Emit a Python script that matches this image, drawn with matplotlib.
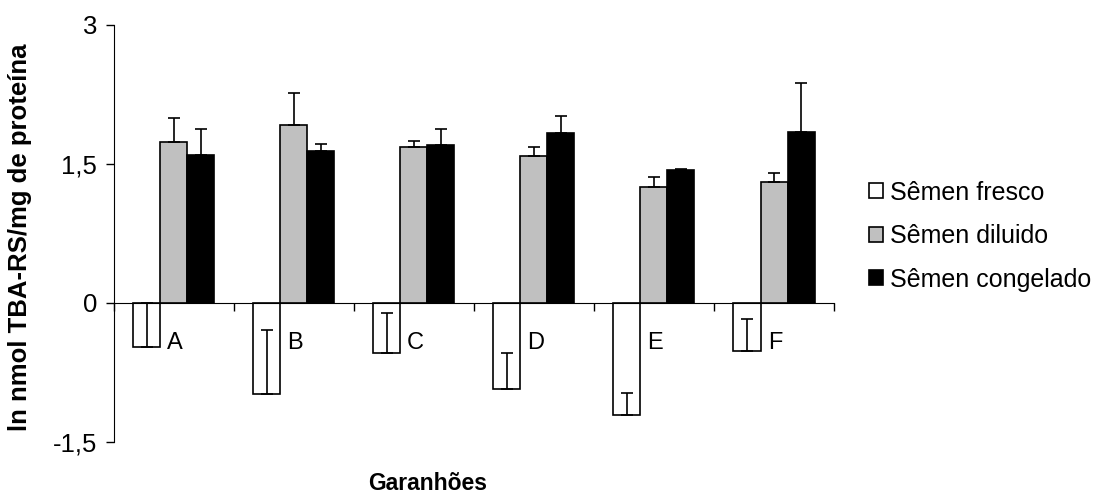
import matplotlib
matplotlib.use("Agg")
import matplotlib.pyplot as plt
import numpy as np
from matplotlib.patches import Patch

plt.rcParams["font.family"] = ["Liberation Sans", "DejaVu Sans"]

CATEGORIES = ["A", "B", "C", "D", "E", "F"]
SERIES = ["Sêmen fresco", "Sêmen diluido", "Sêmen congelado"]
FRESCO = [-0.48, -0.98, -0.54, -0.93, -1.21, -0.52]
FRESCO_ERR = [0.48, 0.69, 0.43, 0.39, 0.24, 0.35]
DILUIDO = [1.74, 1.92, 1.68, 1.59, 1.25, 1.31]
DILUIDO_ERR = [0.26, 0.35, 0.07, 0.09, 0.11, 0.09]
CONGELADO = [1.60, 1.64, 1.71, 1.83, 1.43, 1.84]
CONGELADO_ERR = [0.28, 0.08, 0.17, 0.19, 0.02, 0.53]
YTICKS = [-1.5, 0, 1.5, 3]
YTICK_LABELS = ["-1,5", "0", "1,5", "3"]
COLORS = ["white", "#C0C0C0", "black"]

fig = plt.figure(figsize=(11.01, 4.96), dpi=100)
ax = fig.add_axes([0.1035, 0.1089, 0.654, 0.8407])

x = np.arange(len(CATEGORIES)) + 0.5
w = 0.225
values = [FRESCO, DILUIDO, CONGELADO]
errors = [FRESCO_ERR, DILUIDO_ERR, CONGELADO_ERR]
for k, (vals, errs, color) in enumerate(zip(values, errors, COLORS)):
    pos = x + (k - 1) * w
    ax.bar(pos, vals, width=w, color=color, edgecolor="black", linewidth=1.2, zorder=2)
    ax.errorbar(pos, vals, yerr=[np.zeros(len(errs)), errs], fmt="none",
                ecolor="black", elinewidth=1.2, capsize=4.5, capthick=1.2, zorder=3)

# category letters sit next to the axis line, not as tick labels
for xi, lab in zip(x, CATEGORIES):
    ax.text(xi + 0.01, -0.43, lab, ha="center", va="center", fontsize=17)

ax.set_xlim(0, 6)
ax.set_ylim(-1.5, 3)
ax.set_yticks(YTICKS)
ax.set_yticklabels(YTICK_LABELS, fontsize=18.5)
ax.set_xticks(np.arange(0, 7))
ax.set_xticklabels([])
ax.spines["top"].set_visible(False)
ax.spines["right"].set_visible(False)
ax.spines["bottom"].set_position(("data", 0))
ax.spines["bottom"].set_zorder(4)
ax.tick_params(axis="y", direction="out", length=6, width=1, pad=6)
ax.tick_params(axis="x", direction="out", length=6, width=1)

fig.text(0.018, 0.521, "ln nmol TBA-RS/mg de proteína", rotation=90,
         ha="center", va="center", fontsize=18.5, fontweight="bold")
fig.text(0.3887, 0.026, "Garanhões", ha="center", va="center",
         fontsize=16.5, fontweight="bold")

handles = [Patch(facecolor=c, edgecolor="black", linewidth=1.2) for c in COLORS]
fig.legend(handles, SERIES, loc="upper left", bbox_to_anchor=(0.780, 0.656),
           frameon=False, fontsize=18, handlelength=0.55, handleheight=0.55,
           handletextpad=0.3, labelspacing=0.78, borderaxespad=0.0)

fig.savefig("out.png", dpi=100)
